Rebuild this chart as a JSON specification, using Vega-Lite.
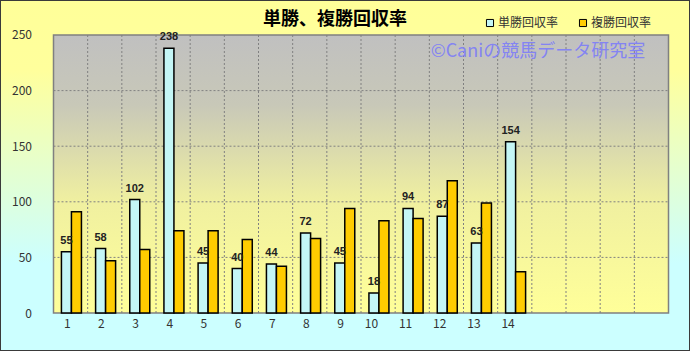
{
  "$schema": "https://vega.github.io/schema/vega-lite/v6.json",
  "width": 690,
  "height": 351,
  "autosize": {"type": "none"},
  "padding": 0,
  "config": {
    "view": {
      "stroke": "#3A3A3A",
      "strokeWidth": 2,
      "fill": {"gradient": "linear", "x1": 0, "y1": 0, "x2": 0, "y2": 1, "stops": [{"offset": 0, "color": "#FFFF99"}, {"offset": 0.2, "color": "#FFFF9C"}, {"offset": 0.75, "color": "#CCFFFF"}, {"offset": 1, "color": "#CCFFFF"}]}
    },
    "font": "Noto Sans CJK JP"
  },
  "title": {
    "text": "単勝、複勝回収率",
    "font": "Noto Sans CJK JP",
    "fontSize": 18,
    "fontWeight": "bold",
    "color": "#000000",
    "anchor": "start",
    "dx": 263,
    "dy": 29,
    "offset": 0
  },
  "datasets": {
    "returns": [
      {"n": 1, "type": "単勝回収率", "value": 55},
      {"n": 1, "type": "複勝回収率", "value": 91},
      {"n": 2, "type": "単勝回収率", "value": 58},
      {"n": 2, "type": "複勝回収率", "value": 47},
      {"n": 3, "type": "単勝回収率", "value": 102},
      {"n": 3, "type": "複勝回収率", "value": 57},
      {"n": 4, "type": "単勝回収率", "value": 238},
      {"n": 4, "type": "複勝回収率", "value": 74},
      {"n": 5, "type": "単勝回収率", "value": 45},
      {"n": 5, "type": "複勝回収率", "value": 74},
      {"n": 6, "type": "単勝回収率", "value": 40},
      {"n": 6, "type": "複勝回収率", "value": 66},
      {"n": 7, "type": "単勝回収率", "value": 44},
      {"n": 7, "type": "複勝回収率", "value": 42},
      {"n": 8, "type": "単勝回収率", "value": 72},
      {"n": 8, "type": "複勝回収率", "value": 67},
      {"n": 9, "type": "単勝回収率", "value": 45},
      {"n": 9, "type": "複勝回収率", "value": 94},
      {"n": 10, "type": "単勝回収率", "value": 18},
      {"n": 10, "type": "複勝回収率", "value": 83},
      {"n": 11, "type": "単勝回収率", "value": 94},
      {"n": 11, "type": "複勝回収率", "value": 85},
      {"n": 12, "type": "単勝回収率", "value": 87},
      {"n": 12, "type": "複勝回収率", "value": 119},
      {"n": 13, "type": "単勝回収率", "value": 63},
      {"n": 13, "type": "複勝回収率", "value": 99},
      {"n": 14, "type": "単勝回収率", "value": 154},
      {"n": 14, "type": "複勝回収率", "value": 37}
    ],
    "ygrid": [{"v": 50}, {"v": 100}, {"v": 150}, {"v": 200}],
    "xgrid": [{"n": 2}, {"n": 3}, {"n": 4}, {"n": 5}, {"n": 6}, {"n": 7}, {"n": 8}, {"n": 9}, {"n": 10}, {"n": 11}, {"n": 12}, {"n": 13}, {"n": 14}, {"n": 15}, {"n": 16}, {"n": 17}, {"n": 18}],
    "frame": [{"lo": 0, "hi": 250}]
  },
  "data": {"name": "returns"},
  "layer": [
    {
      "data": {"name": "frame"},
      "mark": {"type": "rect", "stroke": "#808080", "strokeWidth": 1.5, "color": {"gradient": "linear", "x1": 0, "y1": 0, "x2": 0, "y2": 1, "stops": [{"offset": 0, "color": "#C0C0C0"}, {"offset": 0.25, "color": "#C8C8B8"}, {"offset": 0.6, "color": "#F0F0A0"}, {"offset": 1, "color": "#FFFF99"}]}},
      "encoding": {
        "x": {"datum": 1, "type": "ordinal", "bandPosition": 0, "scale": {"type": "band"}},
        "x2": {"datum": 18, "bandPosition": 1},
        "y": {"field": "hi", "type": "quantitative"},
        "y2": {"field": "lo"}
      }
    },
    {
      "data": {"name": "ygrid"},
      "mark": {"type": "rule", "color": "#808080", "strokeDash": [2, 2], "strokeWidth": 1},
      "encoding": {
        "x": {"datum": 1, "type": "ordinal", "bandPosition": 0, "scale": {"type": "band"}},
        "x2": {"datum": 18, "bandPosition": 1},
        "y": {"field": "v", "type": "quantitative"}
      }
    },
    {
      "data": {"name": "xgrid"},
      "mark": {"type": "rule", "color": "#808080", "strokeDash": [2, 2], "strokeWidth": 1},
      "encoding": {
        "x": {"field": "n", "type": "ordinal", "bandPosition": 0, "scale": {"type": "band"}},
        "y": {"datum": 0, "type": "quantitative"},
        "y2": {"datum": 250}
      }
    },
    {
      "mark": {"type": "bar", "stroke": "#000000", "strokeWidth": 1.5, "opacity": 1},
      "encoding": {
        "x": {
          "field": "n",
          "type": "ordinal",
          "scale": {"type": "band", "domain": [1,2,3,4,5,6,7,8,9,10,11,12,13,14,15,16,17,18], "range": [53.5, 668.5], "paddingInner": 0, "paddingOuter": 0, "round": false},
          "axis": {
            "title": null,
            "labelAngle": 0,
            "labelExpr": "datum.value > 14 ? '' : datum.label",
            "labelFont": "Noto Sans CJK JP",
            "labelFontSize": 12,
            "labelColor": "#333333",
            "labelPadding": 11,
            "ticks": false,
            "domain": false,
            "grid": false,
            "offset": -38.5
          }
        },
        "y": {
          "field": "value",
          "type": "quantitative",
          "scale": {"domain": [-34.17, 281.47], "nice": false, "zero": false},
          "axis": {
            "title": null,
            "values": [0, 50, 100, 150, 200, 250],
            "labelFont": "Noto Sans CJK JP",
            "labelFontSize": 12,
            "labelColor": "#333333",
            "labelPadding": 22,
            "ticks": false,
            "domain": false,
            "grid": false,
            "offset": -53.5
          }
        },
        "y2": {"datum": 0},
        "xOffset": {
          "field": "type",
          "type": "nominal",
          "scale": {"type": "band", "domain": ["単勝回収率", "複勝回収率"], "paddingInner": 0, "paddingOuter": 0.708, "align": 0.56, "round": false}
        },
        "color": {
          "field": "type",
          "type": "nominal",
          "scale": {"domain": ["単勝回収率", "複勝回収率"], "range": ["#C4F6F6", "#FFCC00"]},
          "legend": {
            "title": null,
            "orient": "none",
            "legendX": 484,
            "legendY": 17,
            "direction": "horizontal",
            "symbolType": "square",
            "symbolSize": 50,
            "symbolStrokeColor": "#000000",
            "symbolStrokeWidth": 1,
            "symbolOpacity": 1,
            "labelFont": "Noto Sans CJK JP",
            "labelFontSize": 12,
            "labelColor": "#333333",
            "labelOffset": 2,
            "columnPadding": 18
          }
        }
      }
    },
    {
      "transform": [{"filter": "datum.type === '単勝回収率'"}],
      "mark": {"type": "text", "baseline": "bottom", "dy": -6, "font": "Liberation Sans", "fontSize": 11, "fontWeight": "bold", "color": "#222222"},
      "encoding": {
        "x": {"field": "n", "type": "ordinal", "scale": {"type": "band"}},
        "xOffset": {"field": "type", "type": "nominal", "scale": {"type": "band"}},
        "y": {"field": "value", "type": "quantitative"},
        "text": {"field": "value", "type": "quantitative"}
      }
    },
    {
      "data": {"values": [{"label": "©Caniの競馬データ研究室"}]},
      "mark": {"type": "text", "font": "Noto Sans CJK JP", "fontSize": 18, "fontWeight": "normal", "color": "#8484F2", "baseline": "middle", "align": "center", "dx": -11},
      "encoding": {
        "x": {"datum": 15, "type": "ordinal", "scale": {"type": "band"}},
        "y": {"datum": 235, "type": "quantitative"},
        "text": {"field": "label", "type": "nominal"}
      }
    }
  ]
}
